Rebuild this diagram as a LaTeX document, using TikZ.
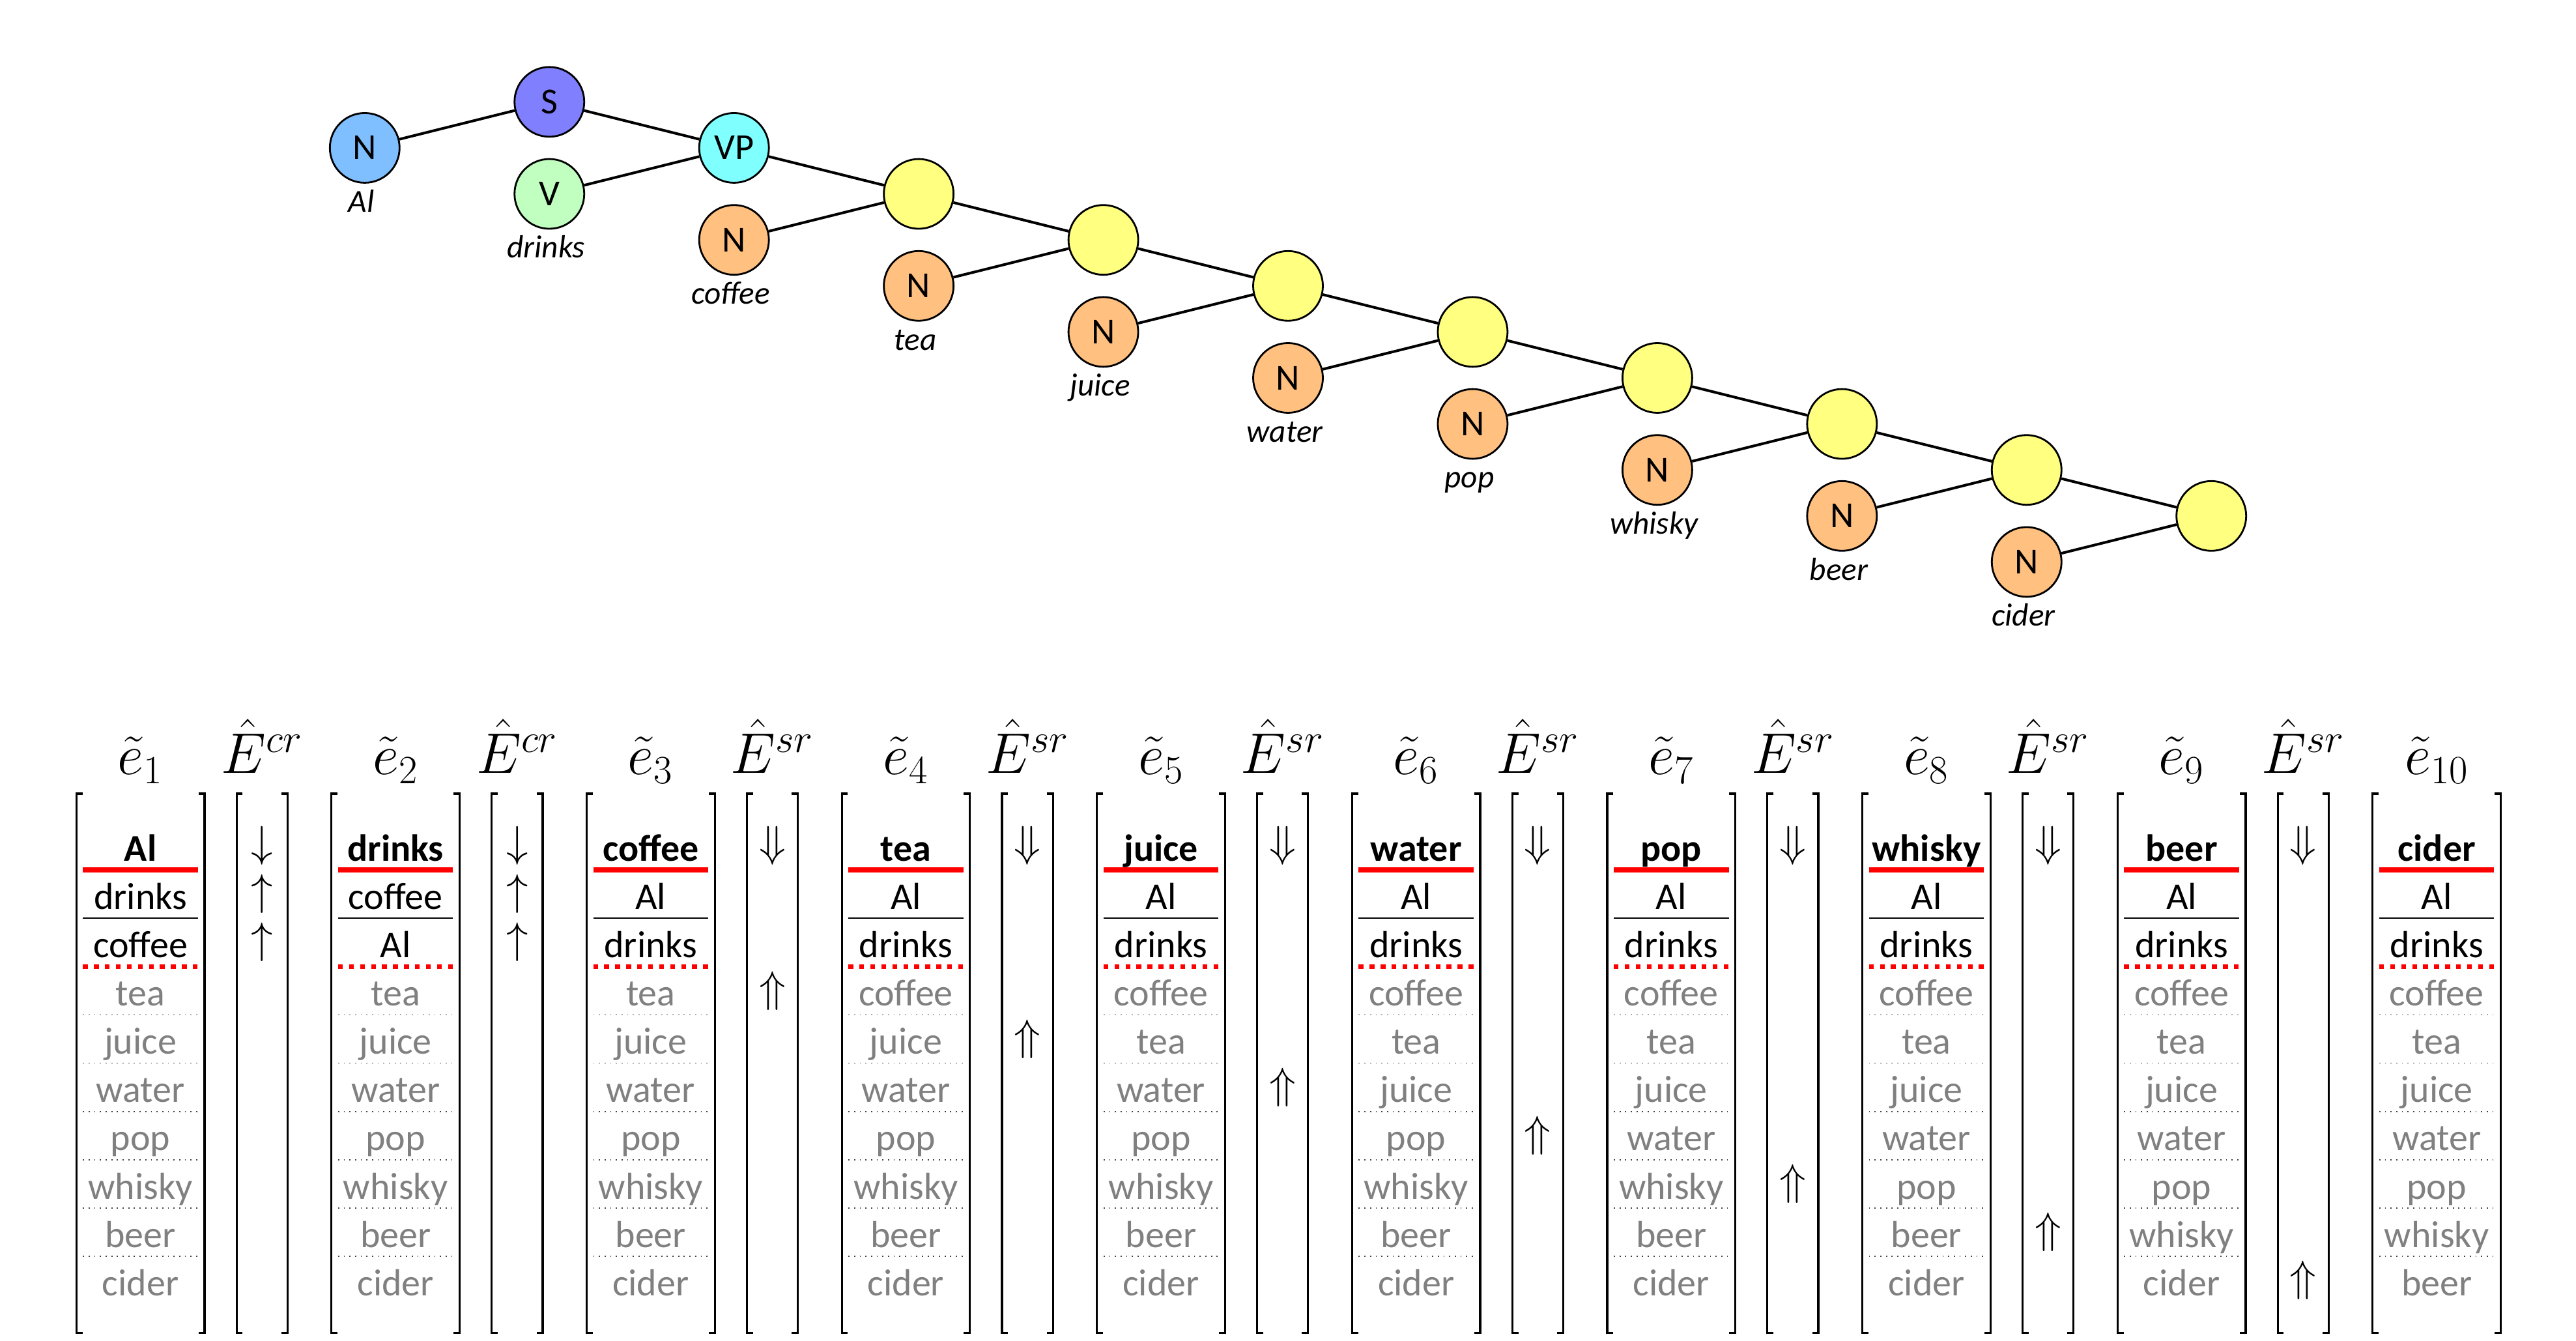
\documentclass[tikz,border=0pt]{standalone}
\usepackage{fix-cm}
\usepackage{amsmath, amssymb}
\usepackage[no-math]{fontspec}
\setmainfont{Carlito}
\usepackage{tikz}
\usetikzlibrary{positioning}
\usepackage{xcolor}

\definecolor{cnal}{HTML}{80BFFF}
\definecolor{cns}{HTML}{8080FF}
\definecolor{cnvp}{HTML}{80FFFF}
\definecolor{cnv}{HTML}{C0FFC0}
\definecolor{cnn}{HTML}{FFC080}
\definecolor{cnx}{HTML}{FFFF80}
\definecolor{wordgray}{HTML}{808080}

\tikzset{
  syn/.style={circle, draw, line width=0.8pt, minimum size=10.7mm, inner sep=0pt,
    font=\fontsize{16}{16}\selectfont},
  leafword/.style={anchor=base, font=\fontsize{14}{14}\selectfont\itshape},
  branch/.style={line width=1.15pt},
  brk/.style={line width=0.9pt},
  hdr/.style={anchor=base, inner sep=0pt, font=\fontsize{25}{30}\selectfont},
  arr/.style={inner sep=0pt, font=\fontsize{19}{22}\selectfont},
  wtop/.style={anchor=base, inner sep=0pt, font=\fontsize{16.5}{18}\selectfont\bfseries},
  wmid/.style={anchor=base, inner sep=0pt, font=\fontsize{16.5}{18}\selectfont},
  wlow/.style={anchor=base, inner sep=0pt, font=\fontsize{16.5}{18}\selectfont, text=wordgray},
  redrule/.style={red, line width=2.2pt},
  blackrule/.style={line width=0.45pt},
  reddots/.style={red, line width=2.1pt, dash pattern=on 2.1pt off 2.7pt},
  graydots/.style={black!75, line width=0.5pt, dash pattern=on 0.5pt off 1.97pt},
}

% square brackets round a column: centre x, half width
\newcommand{\sqbrackets}[2]{%
  \draw[brk] ({#1-#2+3.7},483) -- ({#1-#2},483) -- ({#1-#2},811) -- ++(3.7,0);
  \draw[brk] ({#1+#2-3.7},483) -- ({#1+#2},483) -- ({#1+#2},811) -- ++(-3.7,0);
}

\begin{document}
\begin{tikzpicture}[x=0.25217mm, y=-0.25217mm]
  \useasboundingbox (0,0) rectangle (1568,816);
  \def\dx{112.4}

  % parse tree: spine and leaves
  \foreach \i/\lab/\col in {1/S/cns, 2/VP/cnvp, 3//cnx, 4//cnx, 5//cnx, 6//cnx,
      7//cnx, 8//cnx, 9//cnx, 10//cnx} {
    \node[syn, fill=\col] (sp\i) at ({222+\dx*\i},{34+28*\i}) {\lab};
  }
  \foreach \i/\lab/\col/\word in {0/N/cnal/Al, 1/V/cnv/drinks, 2/N/cnn/coffee,
      3/N/cnn/tea, 4/N/cnn/juice, 5/N/cnn/water, 6/N/cnn/pop, 7/N/cnn/whisky,
      8/N/cnn/beer, 9/N/cnn/cider} {
    \node[syn, fill=\col] (lf\i) at ({222+\dx*\i},{90+28*\i}) {\lab};
    \node[leafword] (wd\i) at ({220+\dx*\i},{129+28*\i}) {\word};
  }
  \foreach \i [evaluate=\i as \j using int(\i+1)] in {0,...,9} {
    \draw[branch] (lf\i) -- (sp\j);
  }
  \foreach \i [evaluate=\i as \j using int(\i+1)] in {1,...,9} {
    \draw[branch] (sp\i) -- (sp\j);
  }

  % embedding columns
  \foreach \k/\words in {
      1/{Al,drinks,coffee,tea,juice,water,pop,whisky,beer,cider},
      2/{drinks,coffee,Al,tea,juice,water,pop,whisky,beer,cider},
      3/{coffee,Al,drinks,tea,juice,water,pop,whisky,beer,cider},
      4/{tea,Al,drinks,coffee,juice,water,pop,whisky,beer,cider},
      5/{juice,Al,drinks,coffee,tea,water,pop,whisky,beer,cider},
      6/{water,Al,drinks,coffee,tea,juice,pop,whisky,beer,cider},
      7/{pop,Al,drinks,coffee,tea,juice,water,whisky,beer,cider},
      8/{whisky,Al,drinks,coffee,tea,juice,water,pop,beer,cider},
      9/{beer,Al,drinks,coffee,tea,juice,water,pop,whisky,cider},
      10/{cider,Al,drinks,coffee,tea,juice,water,pop,whisky,beer}} {
    \pgfmathsetmacro{\cx}{85.5+155.3*(\k-1)}
    \node[hdr] (e\k) at (\cx,471.5) {$\tilde{e}_{\k}$};
    \sqbrackets{\cx}{39}
    \foreach \w [count=\r from 0] in \words {
      \ifnum\r=0 \def\wst{wtop}\else\ifnum\r<3 \def\wst{wmid}\else\def\wst{wlow}\fi\fi
      \node[\wst] (w\k-\r) at (\cx,{523.9+29.4*\r}) {\w};
    }
    \draw[redrule] ({\cx-35},529.4) -- ++(70,0);
    \draw[blackrule] ({\cx-35},558.8) -- ++(70,0);
    \draw[reddots] ({\cx-35},588.2) -- ++(70,0);
    \foreach \r in {3,...,8} {
      \draw[graydots] ({\cx-35},{529.4+29.4*\r}) -- ++(70,0);
    }
  }

  % operator columns
  \foreach \k in {1,...,9} {
    \pgfmathsetmacro{\ex}{159.5+155.3*(\k-1)}
    \ifnum\k<3 \def\etype{cr}\else\def\etype{sr}\fi
    \node[hdr] (E\k) at (\ex,470.5) {$\hat{E}^{\etype}$};
    \sqbrackets{\ex}{15.5}
    \ifnum\k<3
      \node[arr] (a\k-0) at (\ex,514.7) {$\downarrow$};
      \node[arr] (a\k-1) at (\ex,544.1) {$\uparrow$};
      \node[arr] (a\k-2) at (\ex,573.5) {$\uparrow$};
    \else
      \node[arr] (a\k-0) at (\ex,514.7) {$\Downarrow$};
      \node[arr] (a\k-\k) at (\ex,{514.7+29.4*\k}) {$\Uparrow$};
    \fi
  }
\end{tikzpicture}
\end{document}
